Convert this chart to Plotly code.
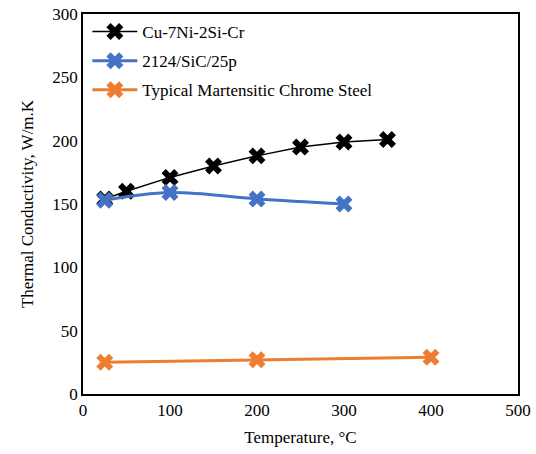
import plotly.graph_objects as go

cu_x = [25, 50, 100, 150, 200, 250, 300, 350]
cu_y = [154, 160, 171, 180, 188, 195, 199, 201]
sic_x = [25, 100, 200, 300]
sic_y = [153, 159, 154, 150]
steel_x = [25, 200, 400]
steel_y = [25, 27, 29]

font = dict(family="Liberation Serif, Times New Roman, serif", size=17, color="black")

fig = go.Figure()
fig.add_trace(go.Scatter(x=cu_x, y=cu_y, name="Cu-7Ni-2Si-Cr", mode="lines+markers",
                         legendgroup="a",
                         line=dict(color="black", width=1.5),
                         marker=dict(symbol="x", size=15, color="black", line=dict(width=0))))
fig.add_trace(go.Scatter(x=sic_x, y=sic_y, name="2124/SiC/25p", mode="lines+markers",
                         legendgroup="b",
                         line=dict(color="#4472C4", width=3, shape="spline"),
                         marker=dict(symbol="x", size=15, color="#4472C4", line=dict(width=0))))
fig.add_trace(go.Scatter(x=steel_x, y=steel_y, name="Typical Martensitic Chrome Steel", mode="lines+markers",
                         legendgroup="c",
                         line=dict(color="#ED7D31", width=3),
                         marker=dict(symbol="x", size=15, color="#ED7D31", line=dict(width=0))))

fig.update_layout(
    width=536, height=454,
    margin=dict(l=83, r=18, t=14, b=60, autoexpand=False),
    paper_bgcolor="white", plot_bgcolor="white",
    font=font,
    showlegend=True,
    legend=dict(x=0.01, y=1.0, xanchor="left", yanchor="top", bgcolor="rgba(0,0,0,0)",
                tracegroupgap=4, itemwidth=45, font=font),
)
fig.update_xaxes(range=[0, 500], dtick=100, showgrid=False, zeroline=False, automargin=False,
                 showline=True, linecolor="black", linewidth=1.5, mirror=True,
                 ticks="", title=dict(text="Temperature, °C", font=font, standoff=12),
                 tickfont=font)
fig.update_yaxes(range=[0, 300], dtick=50, showgrid=False, zeroline=False, automargin=False,
                 showline=True, linecolor="black", linewidth=1.5, mirror=True,
                 ticks="", title=dict(text="Thermal Conductivity, W/m.K", font=font, standoff=14),
                 tickfont=font)

fig.write_html("out.html", config={"displayModeBar": False},
               post_script="document.body.style.margin='0';")
